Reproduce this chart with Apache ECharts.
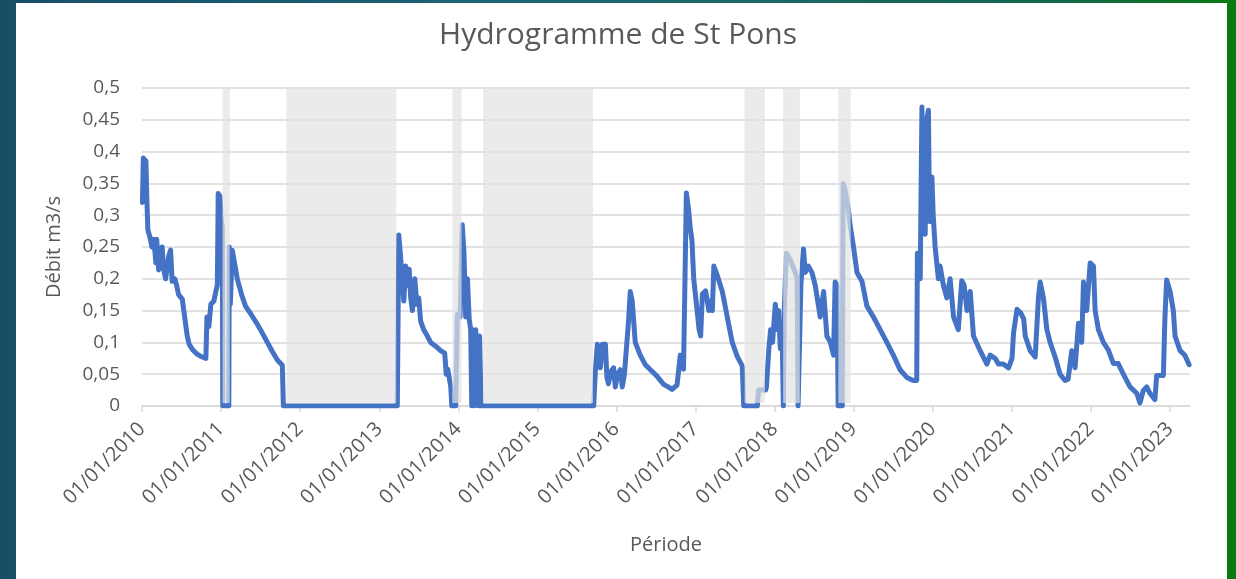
<!DOCTYPE html>
<html>
<head>
<meta charset="utf-8">
<script src="https://cdn.jsdelivr.net/npm/echarts@6/dist/echarts.min.js"></script>
<style>
  html, body { margin: 0; padding: 0; width: 1236px; height: 579px; overflow: hidden; }
  body { background: linear-gradient(90deg, #174f66 0%, #1c6475 40%, #16684f 85%, #0b7a14 100%); position: relative; }
  #panel { position: absolute; left: 16px; top: 3px; width: 1211px; height: 576px; background: #fff; }
  #edge { position: absolute; left: 1227px; top: 0; width: 9px; height: 579px; background: #0b7a10; }
  #chart { position: absolute; left: 0; top: 0; width: 1236px; height: 579px; }
</style>
</head>
<body>
<div id="panel"></div>
<div id="edge"></div>
<div id="chart"></div>
<script>
// débit journalier (m3/s)
var dates = [
    '2010-01-03', '2010-01-07', '2010-01-19', '2010-01-24', '2010-01-28', '2010-02-07', '2010-02-16', '2010-02-25',
    '2010-03-06', '2010-03-10', '2010-03-19', '2010-04-04', '2010-04-11', '2010-04-20', '2010-05-04', '2010-05-13',
    '2010-05-20', '2010-06-01', '2010-06-10', '2010-06-19', '2010-07-06', '2010-07-17', '2010-07-29', '2010-08-07',
    '2010-08-24', '2010-09-11', '2010-09-30', '2010-10-23', '2010-10-28', '2010-11-06', '2010-11-15', '2010-11-29',
    '2010-12-08', '2010-12-15', '2010-12-19', '2010-12-27', '2010-12-31', '2011-01-07', '2011-01-09', '2011-02-06',
    '2011-02-08', '2011-02-13', '2011-02-22', '2011-03-17', '2011-04-06', '2011-04-24', '2011-05-18', '2011-06-15',
    '2011-07-07', '2011-08-03', '2011-08-27', '2011-09-19', '2011-10-11', '2011-10-16', '2013-03-25', '2013-04-01',
    '2013-04-08', '2013-04-17', '2013-04-24', '2013-05-03', '2013-05-10', '2013-05-19', '2013-05-26', '2013-06-03',
    '2013-06-14', '2013-06-23', '2013-07-02', '2013-07-11', '2013-07-25', '2013-08-11', '2013-08-26', '2013-09-18',
    '2013-10-11', '2013-10-30', '2013-11-06', '2013-11-13', '2013-11-22', '2013-11-27', '2013-12-02', '2013-12-20',
    '2013-12-27', '2014-01-09', '2014-01-19', '2014-01-27', '2014-02-04', '2014-02-12', '2014-02-20', '2014-02-27',
    '2014-03-04', '2014-03-09', '2014-03-17', '2014-03-22', '2014-03-31', '2014-04-05', '2014-04-09', '2014-04-16',
    '2015-09-18', '2015-09-26', '2015-10-05', '2015-10-19', '2015-10-28', '2015-11-11', '2015-11-18', '2015-11-25',
    '2015-12-08', '2015-12-19', '2015-12-27', '2016-01-06', '2016-01-19', '2016-01-28', '2016-02-07', '2016-02-11',
    '2016-02-26', '2016-03-05', '2016-03-14', '2016-03-28', '2016-04-20', '2016-05-13', '2016-06-06', '2016-07-06',
    '2016-08-06', '2016-08-27', '2016-09-14', '2016-10-07', '2016-10-13', '2016-10-22', '2016-11-06', '2016-11-19',
    '2016-11-29', '2016-12-07', '2016-12-15', '2016-12-23', '2017-01-08', '2017-01-17', '2017-01-24', '2017-02-01',
    '2017-02-16', '2017-03-03', '2017-03-11', '2017-03-19', '2017-03-26', '2017-04-11', '2017-05-04', '2017-05-27',
    '2017-06-19', '2017-07-12', '2017-08-04', '2017-08-11', '2017-10-13', '2017-10-18', '2017-11-20', '2017-11-24',
    '2017-12-05', '2017-12-13', '2017-12-22', '2018-01-04', '2018-01-13', '2018-01-19', '2018-01-27', '2018-02-05',
    '2018-02-10', '2018-02-14', '2018-02-24', '2018-03-14', '2018-04-06', '2018-04-15', '2018-04-19', '2018-04-28',
    '2018-05-02', '2018-05-14', '2018-05-22', '2018-06-05', '2018-06-22', '2018-07-07', '2018-07-21', '2018-07-30',
    '2018-08-15', '2018-08-30', '2018-09-15', '2018-09-30', '2018-10-07', '2018-10-16', '2018-10-21', '2018-11-09',
    '2018-11-13', '2018-11-22', '2018-12-07', '2018-12-15', '2018-12-31', '2019-01-16', '2019-02-08', '2019-03-03',
    '2019-04-02', '2019-05-03', '2019-06-03', '2019-07-03', '2019-08-03', '2019-09-03', '2019-10-03', '2019-10-19',
    '2019-10-22', '2019-11-04', '2019-11-12', '2019-11-17', '2019-11-27', '2019-12-04', '2019-12-12', '2019-12-17',
    '2019-12-28', '2020-01-03', '2020-01-12', '2020-01-27', '2020-02-04', '2020-02-19', '2020-03-06', '2020-03-21',
    '2020-04-06', '2020-04-28', '2020-05-14', '2020-05-25', '2020-06-07', '2020-06-22', '2020-07-07', '2020-08-07',
    '2020-09-07', '2020-09-22', '2020-10-15', '2020-10-30', '2020-11-21', '2020-12-16', '2021-01-01', '2021-01-08',
    '2021-01-24', '2021-02-09', '2021-02-24', '2021-03-03', '2021-03-26', '2021-04-18', '2021-05-03', '2021-05-11',
    '2021-05-26', '2021-06-11', '2021-06-26', '2021-07-19', '2021-08-11', '2021-09-03', '2021-09-17', '2021-10-04',
    '2021-10-19', '2021-11-04', '2021-11-19', '2021-11-27', '2021-12-12', '2021-12-28', '2022-01-12', '2022-01-20',
    '2022-02-04', '2022-02-27', '2022-03-22', '2022-04-14', '2022-05-06', '2022-05-30', '2022-06-30', '2022-07-31',
    '2022-08-15', '2022-08-30', '2022-09-15', '2022-09-30', '2022-10-23', '2022-10-31', '2022-12-01', '2022-12-08',
    '2022-12-16', '2023-01-01', '2023-01-16', '2023-01-24', '2023-02-16', '2023-03-10', '2023-03-30'
];
var flow = [
    0.32, 0.39, 0.385, 0.32, 0.277, 0.265, 0.25, 0.262,
    0.225, 0.262, 0.214, 0.25, 0.215, 0.2, 0.235, 0.245,
    0.196, 0.2, 0.19, 0.175, 0.168, 0.14, 0.11, 0.097,
    0.088, 0.082, 0.078, 0.075, 0.14, 0.125, 0.16, 0.165,
    0.18, 0.19, 0.334, 0.33, 0.3, 0.28, 0, 0,
    0.25, 0.16, 0.245, 0.2, 0.175, 0.157, 0.145, 0.13,
    0.117, 0.1, 0.085, 0.072, 0.064, 0, 0, 0.269,
    0.24, 0.2, 0.165, 0.22, 0.19, 0.215, 0.17, 0.15,
    0.2, 0.16, 0.17, 0.133, 0.12, 0.11, 0.1, 0.094,
    0.087, 0.083, 0.05, 0.058, 0.058, 0.03, 0, 0,
    0.144, 0.14, 0.285, 0.24, 0.14, 0.2, 0.137, 0.12,
    0, 0.12, 0, 0.12, 0.12, 0, 0.11, 0,
    0, 0.056, 0.097, 0.06, 0.097, 0.097, 0.045, 0.035,
    0.055, 0.06, 0.03, 0.05, 0.057, 0.03, 0.05, 0.068,
    0.133, 0.18, 0.165, 0.1, 0.08, 0.065, 0.057, 0.047,
    0.034, 0.03, 0.026, 0.033, 0.03, 0.08, 0.058, 0.335,
    0.31, 0.28, 0.26, 0.2, 0.149, 0.12, 0.11, 0.176,
    0.181, 0.15, 0.165, 0.15, 0.22, 0.205, 0.18, 0.14,
    0.1, 0.078, 0.063, 0, 0, 0.025, 0.025, 0.03,
    0.09, 0.12, 0.1, 0.16, 0.12, 0.15, 0.09, 0.1,
    0, 0.15, 0.24, 0.23, 0.21, 0.2, 0, 0,
    0.19, 0.247, 0.21, 0.22, 0.21, 0.19, 0.16, 0.14,
    0.18, 0.11, 0.1, 0.08, 0.195, 0.19, 0, 0,
    0.35, 0.34, 0.31, 0.285, 0.25, 0.21, 0.196, 0.157,
    0.14, 0.12, 0.1, 0.08, 0.057, 0.045, 0.04, 0.04,
    0.24, 0.2, 0.47, 0.3, 0.27, 0.45, 0.465, 0.29,
    0.36, 0.3, 0.25, 0.2, 0.22, 0.19, 0.17, 0.2,
    0.14, 0.12, 0.197, 0.19, 0.15, 0.18, 0.11, 0.087,
    0.066, 0.08, 0.075, 0.066, 0.066, 0.06, 0.075, 0.115,
    0.152, 0.147, 0.137, 0.11, 0.087, 0.077, 0.17, 0.195,
    0.17, 0.12, 0.1, 0.077, 0.05, 0.04, 0.042, 0.087,
    0.06, 0.13, 0.1, 0.195, 0.15, 0.225, 0.22, 0.15,
    0.12, 0.1, 0.088, 0.067, 0.067, 0.05, 0.03, 0.02,
    0.005, 0.024, 0.03, 0.02, 0.01, 0.048, 0.048, 0.137,
    0.198, 0.18, 0.15, 0.11, 0.087, 0.08, 0.065
];

// périodes grisées (lacunes)
var gapStart = ['2011-01-08', '2011-10-30', '2013-12-04', '2014-04-25', '2017-08-15', '2018-02-09', '2018-10-22'];
var gapEnd   = ['2011-02-10', '2013-03-20', '2014-01-16', '2015-09-15', '2017-11-17', '2018-04-27', '2018-12-18'];

var yMin = 0, yMax = 0.5, yStep = 0.05;
var xMin = '2010-01-01', xMax = '2023-04-03';

var txt = '#595959';
var font = 'Open Sans';

var pad = function (n) { return n < 10 ? '0' + n : '' + n; };

var chart = echarts.init(document.getElementById('chart'));

var option = {
    animation: false,
    textStyle: { fontFamily: font },
    title: {
        text: 'Hydrogramme de St Pons',
        left: 'center',
        top: 15,
        textStyle: { color: txt, fontSize: 30, fontWeight: 'normal', fontFamily: font }
    },
    grid: { left: 142, right: 46, top: 88, bottom: 173 },
    xAxis: {
        type: 'time',
        min: xMin,
        max: xMax,
        minInterval: 365 * 24 * 3600 * 1000,
        maxInterval: 366 * 24 * 3600 * 1000,
        name: 'Période',
        nameLocation: 'middle',
        nameGap: 129,
        nameTextStyle: { color: txt, fontSize: 20, fontFamily: font },
        axisLine: { lineStyle: { color: '#d9d9d9', width: 1.5 } },
        axisTick: { show: true, length: 6, lineStyle: { color: '#d9d9d9', width: 1.5 } },
        splitLine: { show: false },
        axisLabel: {
            rotate: 45,
            margin: 20,
            color: txt,
            fontSize: 20,
            fontFamily: font,
            formatter: function (v) {
                var d = new Date(v);
                return pad(d.getDate()) + '/' + pad(d.getMonth() + 1) + '/' + d.getFullYear();
            }
        }
    },
    yAxis: {
        type: 'value',
        min: yMin,
        max: yMax,
        interval: yStep,
        name: 'Débit m3/s',
        nameLocation: 'middle',
        nameGap: 78,
        nameTextStyle: { color: txt, fontSize: 20, fontFamily: font },
        axisLine: { show: false },
        axisTick: { show: false },
        splitLine: { lineStyle: { color: '#d9d9d9', width: 1.5 } },
        axisLabel: {
            color: txt,
            fontSize: 19,
            fontFamily: font,
            margin: 22,
            formatter: function (v) { return String(+v.toFixed(2)).replace('.', ','); }
        }
    },
    series: [
        {
            name: 'Débit',
            type: 'line',
            z: 2,
            showSymbol: false,
            data: dates.map(function (d, i) { return [d, flow[i]]; }),
            lineStyle: { color: '#4472C4', width: 5, join: 'round', cap: 'round' },
            itemStyle: { color: '#4472C4' }
        },
        {
            name: 'Lacunes',
            type: 'custom',
            z: 3,
            dimensions: [{ name: 'debut', type: 'time' }, { name: 'fin', type: 'time' }],
            encode: { x: [0, 1] },
            data: gapStart.map(function (d, i) { return [d, gapEnd[i]]; }),
            renderItem: function (params, api) {
                var p0 = api.coord([api.value(0), yMax]);
                var p1 = api.coord([api.value(1), yMin]);
                return {
                    type: 'rect',
                    shape: { x: p0[0], y: p0[1], width: p1[0] - p0[0], height: p1[1] - p0[1] - 3 },
                    style: { fill: 'rgba(227,227,227,0.7)' }
                };
            }
        }
    ]
};

chart.setOption(option);
</script>
</body>
</html>
